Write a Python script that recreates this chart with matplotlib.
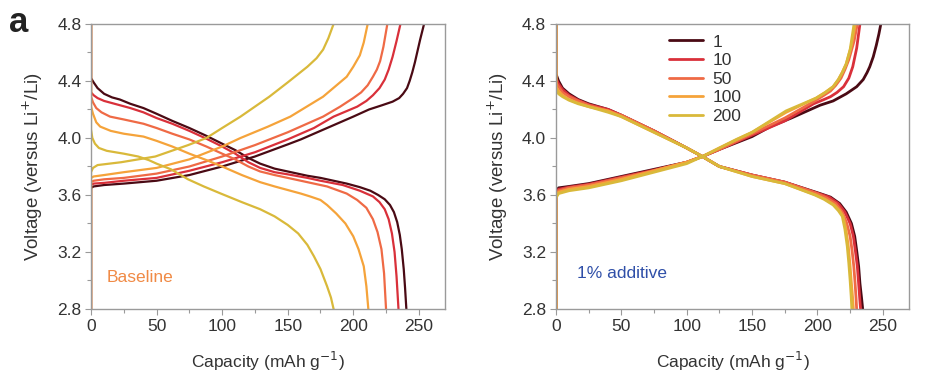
import matplotlib
matplotlib.use("Agg")
import matplotlib.pyplot as plt
from matplotlib.ticker import MultipleLocator

plt.rcParams['font.family'] = ['Liberation Sans', 'DejaVu Sans']

cycles = ['1', '10', '50', '100', '200']
colors = ['#4a0a14', '#d9303a', '#ef6a45', '#f5a33a', '#d9b93a']

# ---------------- Baseline (left) ----------------
base_c1_x = [0, 0, 2, 10, 25, 50, 75, 100, 125, 150, 160, 180, 200, 212, 222, 230, 235, 238, 241, 243, 245, 247, 249, 251, 254]
base_c1_y = [2.8, 3.65, 3.66, 3.67, 3.68, 3.70, 3.74, 3.80, 3.87, 3.955, 3.99, 4.07, 4.15, 4.20, 4.23, 4.255, 4.28, 4.31, 4.35, 4.40, 4.46, 4.53, 4.61, 4.69, 4.80]
base_c10_x = [0, 0, 2, 10, 25, 50, 75, 100, 125, 150, 170, 185, 203, 210, 215, 220, 224, 227, 230, 233, 236]
base_c10_y = [2.8, 3.67, 3.68, 3.685, 3.70, 3.72, 3.77, 3.83, 3.90, 3.99, 4.07, 4.15, 4.22, 4.26, 4.30, 4.35, 4.41, 4.48, 4.57, 4.68, 4.80]
base_c50_x = [0, 0, 2, 10, 25, 50, 75, 100, 125, 150, 177, 190, 200, 206, 211, 215, 218, 220.5, 223, 226]
base_c50_y = [2.8, 3.69, 3.70, 3.71, 3.72, 3.75, 3.80, 3.87, 3.95, 4.04, 4.15, 4.22, 4.28, 4.32, 4.37, 4.43, 4.48, 4.54, 4.64, 4.80]
base_c100_x = [0, 0, 2, 10, 25, 50, 75, 100, 114, 135, 152, 177, 195, 200, 205, 208, 211]
base_c100_y = [2.8, 3.72, 3.73, 3.74, 3.76, 3.79, 3.85, 3.94, 4.00, 4.08, 4.15, 4.29, 4.43, 4.50, 4.58, 4.67, 4.80]
base_c200_x = [0, 0, 1.5, 5, 23, 49, 74, 88, 100, 114, 136, 150, 165, 172, 177, 181, 185]
base_c200_y = [2.8, 3.76, 3.79, 3.81, 3.83, 3.87, 3.95, 4.00, 4.07, 4.15, 4.29, 4.39, 4.50, 4.56, 4.62, 4.70, 4.80]

base_d1_x = [0, 0, 2, 5, 10, 16, 22, 30, 40, 50, 62, 75, 88, 100, 110, 120, 129, 140, 150, 165, 175, 195, 205, 213, 219, 224, 228, 231, 233.5, 235.5, 237, 238.5, 239.5, 240.5]
base_d1_y = [4.8, 4.42, 4.39, 4.35, 4.31, 4.285, 4.27, 4.24, 4.21, 4.17, 4.12, 4.07, 4.015, 3.96, 3.915, 3.86, 3.82, 3.785, 3.765, 3.735, 3.72, 3.68, 3.655, 3.63, 3.60, 3.57, 3.53, 3.48, 3.41, 3.32, 3.22, 3.08, 2.95, 2.8]
base_d10_x = [0, 0, 2, 5, 10, 16, 22, 30, 40, 50, 62, 75, 88, 100, 110, 120, 129, 140, 150, 165, 175, 192, 205, 215, 220, 224, 227, 229.5, 231.5, 233, 234.5]
base_d10_y = [4.8, 4.32, 4.30, 4.28, 4.26, 4.245, 4.23, 4.21, 4.18, 4.14, 4.10, 4.05, 3.995, 3.94, 3.89, 3.83, 3.79, 3.76, 3.745, 3.72, 3.70, 3.67, 3.63, 3.59, 3.55, 3.50, 3.43, 3.33, 3.20, 3.03, 2.8]
base_d50_x = [0, 0, 1.5, 4, 8, 14.5, 25, 40, 50, 62, 75, 88, 100, 110, 120, 129, 140, 150, 165, 180, 195, 203, 210, 215, 218.5, 221.5, 223.5, 225]
base_d50_y = [4.8, 4.29, 4.25, 4.21, 4.18, 4.15, 4.13, 4.10, 4.07, 4.03, 3.99, 3.94, 3.89, 3.85, 3.80, 3.765, 3.74, 3.72, 3.69, 3.66, 3.61, 3.565, 3.51, 3.43, 3.34, 3.22, 3.05, 2.8]
base_d100_x = [0, 0, 1.5, 4, 7, 15, 25, 40, 50, 62, 75, 88, 100, 115, 129, 140, 150, 160, 167, 175, 180, 187, 194, 200, 204, 208, 210, 211.5]
base_d100_y = [4.8, 4.22, 4.17, 4.11, 4.08, 4.05, 4.03, 4.01, 3.98, 3.94, 3.89, 3.845, 3.80, 3.74, 3.69, 3.66, 3.635, 3.61, 3.59, 3.565, 3.53, 3.47, 3.40, 3.31, 3.22, 3.10, 2.96, 2.8]
base_d200_x = [0, 0, 1, 3, 6, 12, 25, 36, 44, 50, 61, 74, 86, 99, 115, 129, 140, 150, 158, 165, 170, 175, 180, 183, 185]
base_d200_y = [4.8, 4.06, 4.00, 3.96, 3.93, 3.91, 3.89, 3.87, 3.845, 3.82, 3.78, 3.71, 3.66, 3.61, 3.55, 3.50, 3.45, 3.39, 3.33, 3.25, 3.17, 3.08, 2.96, 2.88, 2.8]

# ---------------- 1% additive (right) ----------------
add_c1_x = [0, 0, 2, 10, 25, 50, 75, 100, 112, 125, 150, 164, 180, 202, 212, 222, 226, 230, 235, 238, 240, 242.7, 245, 247, 248.5]
add_c1_y = [2.8, 3.62, 3.65, 3.66, 3.68, 3.73, 3.78, 3.83, 3.87, 3.92, 4.01, 4.08, 4.14, 4.23, 4.26, 4.31, 4.335, 4.36, 4.41, 4.46, 4.50, 4.57, 4.65, 4.73, 4.80]
add_c10_x = [0, 0, 2, 10, 25, 50, 75, 100, 112, 125, 150, 175, 197, 205, 210, 215, 220, 224, 227, 230, 232.5]
add_c10_y = [2.8, 3.61, 3.64, 3.655, 3.675, 3.725, 3.775, 3.83, 3.87, 3.92, 4.02, 4.12, 4.24, 4.27, 4.29, 4.32, 4.36, 4.42, 4.50, 4.63, 4.80]
add_c50_x = [0, 0, 2, 10, 25, 50, 75, 100, 112, 125, 150, 175, 198, 205, 210, 214, 218, 221, 224, 228, 230.5]
add_c50_y = [2.8, 3.60, 3.63, 3.65, 3.67, 3.72, 3.77, 3.83, 3.87, 3.92, 4.03, 4.14, 4.26, 4.30, 4.33, 4.37, 4.42, 4.48, 4.55, 4.68, 4.80]
add_c100_x = [0, 0, 2, 10, 25, 50, 75, 100, 112, 125, 150, 176, 199, 206, 212, 216, 219, 222, 226, 229]
add_c100_y = [2.8, 3.59, 3.62, 3.64, 3.66, 3.71, 3.77, 3.83, 3.87, 3.93, 4.04, 4.18, 4.28, 4.32, 4.36, 4.41, 4.46, 4.52, 4.65, 4.80]
add_c200_x = [0, 0, 2, 10, 25, 50, 75, 100, 112, 125, 138, 150, 176, 199, 206, 212, 216, 219, 222, 225, 228]
add_c200_y = [2.8, 3.58, 3.61, 3.63, 3.65, 3.70, 3.76, 3.82, 3.87, 3.93, 3.99, 4.04, 4.19, 4.28, 4.32, 4.36, 4.41, 4.46, 4.52, 4.62, 4.80]

add_d1_x = [0, 0, 2, 5, 10, 17, 25, 40, 50, 75, 100, 112, 125, 150, 175, 202, 210, 217, 222, 226, 228.5, 230, 231.5, 232.5, 233.7, 234.6]
add_d1_y = [4.8, 4.45, 4.40, 4.35, 4.31, 4.27, 4.24, 4.20, 4.16, 4.05, 3.93, 3.87, 3.80, 3.74, 3.69, 3.61, 3.585, 3.54, 3.48, 3.40, 3.31, 3.21, 3.10, 2.98, 2.88, 2.8]
add_d10_x = [0, 0, 2, 5, 10, 17, 25, 40, 50, 75, 100, 112, 125, 150, 175, 201, 209, 216, 221, 225, 227.5, 229, 230.5, 231.5, 232.3, 233]
add_d10_y = [4.8, 4.42, 4.38, 4.34, 4.30, 4.265, 4.235, 4.20, 4.16, 4.05, 3.93, 3.87, 3.80, 3.74, 3.69, 3.61, 3.585, 3.54, 3.48, 3.40, 3.31, 3.21, 3.10, 2.98, 2.88, 2.8]
add_d50_x = [0, 0, 2, 5, 10, 17, 25, 40, 50, 75, 100, 112, 125, 150, 175, 200, 207, 214, 219, 222.5, 225, 226.5, 227.8, 228.8, 229.5, 230]
add_d50_y = [4.8, 4.39, 4.36, 4.32, 4.29, 4.26, 4.23, 4.19, 4.16, 4.05, 3.93, 3.87, 3.80, 3.74, 3.69, 3.61, 3.58, 3.54, 3.48, 3.40, 3.31, 3.21, 3.10, 2.98, 2.88, 2.8]
add_d100_x = [0, 0, 2, 5, 10, 17, 25, 40, 50, 75, 100, 112, 125, 150, 175, 199, 206, 213, 217, 219.7, 221.8, 223.6, 224.8, 225.8, 226.8, 227.5]
add_d100_y = [4.8, 4.36, 4.33, 4.30, 4.27, 4.245, 4.22, 4.19, 4.15, 4.04, 3.93, 3.87, 3.80, 3.73, 3.68, 3.60, 3.57, 3.53, 3.49, 3.45, 3.36, 3.24, 3.12, 3.00, 2.89, 2.8]
add_d200_x = [0, 0, 2, 5, 10, 17, 25, 40, 50, 75, 100, 112, 125, 150, 175, 198, 205, 212, 216, 219, 221, 222.8, 224, 225, 225.8, 226.3]
add_d200_y = [4.8, 4.34, 4.31, 4.29, 4.265, 4.24, 4.22, 4.18, 4.15, 4.04, 3.93, 3.87, 3.80, 3.73, 3.68, 3.60, 3.57, 3.53, 3.49, 3.45, 3.36, 3.24, 3.12, 3.00, 2.89, 2.8]

base_curves = [
    (base_c1_x, base_c1_y, base_d1_x, base_d1_y),
    (base_c10_x, base_c10_y, base_d10_x, base_d10_y),
    (base_c50_x, base_c50_y, base_d50_x, base_d50_y),
    (base_c100_x, base_c100_y, base_d100_x, base_d100_y),
    (base_c200_x, base_c200_y, base_d200_x, base_d200_y),
]
add_curves = [
    (add_c1_x, add_c1_y, add_d1_x, add_d1_y),
    (add_c10_x, add_c10_y, add_d10_x, add_d10_y),
    (add_c50_x, add_c50_y, add_d50_x, add_d50_y),
    (add_c100_x, add_c100_y, add_d100_x, add_d100_y),
    (add_c200_x, add_c200_y, add_d200_x, add_d200_y),
]

fig = plt.figure(figsize=(9.26, 3.89), dpi=100)
axL = fig.add_axes([0.0983, 0.2057, 0.3823, 0.7326])
axR = fig.add_axes([0.6004, 0.2057, 0.3812, 0.7326])

text_c = '#333333'
spine_c = '#9a9a9a'

def style(ax):
    ax.set_xlim(0, 270)
    ax.set_ylim(2.8, 4.8)
    ax.xaxis.set_major_locator(MultipleLocator(50))
    ax.xaxis.set_minor_locator(MultipleLocator(25))
    ax.yaxis.set_major_locator(MultipleLocator(0.4))
    ax.yaxis.set_minor_locator(MultipleLocator(0.2))
    ax.yaxis.set_major_formatter(plt.FuncFormatter(lambda v, p: f'{v:.1f}'))
    for s in ax.spines.values():
        s.set_color(spine_c)
        s.set_linewidth(1.0)
    ax.tick_params(which='both', direction='out', color=spine_c, width=0.8,
                   labelsize=12.5, labelcolor=text_c, top=False, right=False)
    ax.tick_params(which='major', length=4, pad=3)
    ax.tick_params(which='minor', length=3)
    ax.set_xlabel('Capacity (mAh g$^{-1}$)', fontsize=12.5, color=text_c, labelpad=12)
    ax.set_ylabel('Voltage (versus Li$^{+}$/Li)', fontsize=13.5, color=text_c, labelpad=9)

for ax, curves, lw in [(axL, base_curves, 1.6), (axR, add_curves, 2.0)]:
    for (cx, cy, dx, dy), col, lab in zip(curves, colors, cycles):
        ax.plot(cx, cy, color=col, lw=lw, label=lab, solid_joinstyle='round', solid_capstyle='round')
        ax.plot(dx, dy, color=col, lw=lw, solid_joinstyle='round', solid_capstyle='round')
    style(ax)

axL.text(12, 3.02, 'Baseline', color='#f08a45', fontsize=12.5, va='center', ha='left')
axR.text(16, 3.05, '1% additive', color='#2f4fa8', fontsize=12.5, va='center', ha='left')

handles, labels = axR.get_legend_handles_labels()
axR.legend(handles, labels, loc='upper left', bbox_to_anchor=(0.29, 1.0), frameon=False,
           fontsize=12.5, handlelength=2.0, handletextpad=0.5, labelspacing=0.2,
           borderaxespad=0.2, labelcolor=text_c)

fig.text(0.010, 0.985, 'a', fontsize=25, fontweight='bold', va='top', ha='left', color='#222222')

fig.savefig('out.png', dpi=100)
